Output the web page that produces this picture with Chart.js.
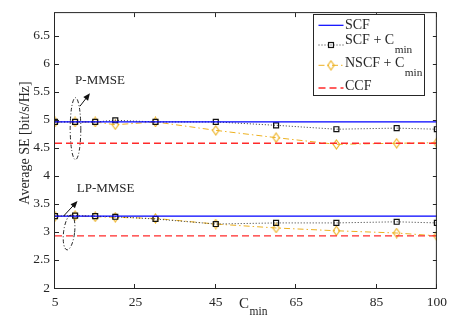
<!DOCTYPE html>
<html>
<head>
<meta charset="utf-8">
<script src="https://cdn.jsdelivr.net/npm/chart.js@4.4.0/dist/chart.umd.min.js"></script>
<style>
  html, body { margin: 0; padding: 0; background: #fff; }
</style>
</head>
<body>
<canvas id="seChart" width="453" height="324"></canvas>
<script>
// x positions (C_min) and tick labels
const cmin = [5, 10, 15, 20, 30, 45, 60, 75, 90, 100];
const xTicks = [5, 25, 45, 65, 85, 100];
const yTicks = [2, 2.5, 3, 3.5, 4, 4.5, 5, 5.5, 6, 6.5];

// P-MMSE group
const scfP      = [4.96, 4.96, 4.96, 4.96, 4.96, 4.96, 4.96, 4.96, 4.96, 4.96];
const scfCminP  = [4.96, 4.96, 4.96, 4.99, 4.96, 4.96, 4.90, 4.83, 4.85, 4.83];
const nscfCminP = [4.96, 4.96, 4.96, 4.91, 4.96, 4.81, 4.68, 4.56, 4.58, 4.59];
const ccfP      = [4.58, 4.58, 4.58, 4.58, 4.58, 4.58, 4.58, 4.58, 4.58, 4.58];

// LP-MMSE group
const scfLP      = [3.28, 3.28, 3.28, 3.28, 3.28, 3.28, 3.28, 3.28, 3.28, 3.28];
const scfCminLP  = [3.28, 3.29, 3.28, 3.27, 3.23, 3.14, 3.16, 3.16, 3.18, 3.16];
const nscfCminLP = [3.28, 3.29, 3.27, 3.26, 3.24, 3.14, 3.07, 3.02, 2.98, 2.93];
const ccfLP      = [2.93, 2.93, 2.93, 2.93, 2.93, 2.93, 2.93, 2.93, 2.93, 2.93];

const FONT = "'Liberation Serif', 'Times New Roman', serif";
const INK = "#262626";
const BLUE = "#0000ff";
const ORANGE = "#edb120";
const RED = "#ff2a2a";
const DARK = "#333333";

// open diamond marker (taller than wide, like matlab)
function diamondMarker(color) {
  const c = document.createElement("canvas");
  c.width = 9;
  c.height = 11;
  const g = c.getContext("2d");
  g.strokeStyle = color;
  g.lineWidth = 1.1;
  g.beginPath();
  g.moveTo(4.5, 1);
  g.lineTo(7.7, 5.5);
  g.lineTo(4.5, 10);
  g.lineTo(1.3, 5.5);
  g.closePath();
  g.stroke();
  return c;
}
const diamond = diamondMarker(ORANGE);

function pts(values) {
  return cmin.map((c, i) => ({ x: c, y: values[i] }));
}

const styles = {
  scf:  { borderColor: BLUE, borderWidth: 1.2, pointRadius: 0, borderDash: [] },
  scfC: { borderColor: DARK, borderWidth: 1, borderDash: [1, 2], pointStyle: "rect", pointRadius: 3.5,
          pointBorderColor: "#111", pointBackgroundColor: "rgba(0,0,0,0)", pointBorderWidth: 1.2 },
  nscf: { borderColor: ORANGE, borderWidth: 1, borderDash: [6, 3, 1.5, 3], pointStyle: diamond, pointRadius: 4 },
  ccf:  { borderColor: RED, borderWidth: 1.3, borderDash: [7, 4], pointRadius: 0 },
};

function ds(label, values, style, order) {
  return { label: label, data: pts(values), fill: false, tension: 0, order: order, ...style };
}

// legend rows, drawn by hand because of the subscripts
const legendRows = [
  { style: "scf",  text: "SCF",       sub: "" },
  { style: "scfC", text: "SCF + C",   sub: "min" },
  { style: "nscf", text: "NSCF + C",  sub: "min" },
  { style: "ccf",  text: "CCF",       sub: "" },
];

function textWithSub(ctx, text, sub, x, y, size, subSize, subDy) {
  ctx.font = size + "px " + FONT;
  ctx.textAlign = "left";
  ctx.textBaseline = "middle";
  ctx.fillText(text, x, y);
  if (sub) {
    const w = ctx.measureText(text).width;
    ctx.font = subSize + "px " + FONT;
    ctx.fillText(sub, x + w + 0.5, y + subDy);
  }
}

function drawSample(ctx, st, x0, x1, y) {
  ctx.save();
  ctx.strokeStyle = st.borderColor;
  ctx.lineWidth = st.borderWidth;
  ctx.setLineDash(st.borderDash || []);
  ctx.beginPath();
  ctx.moveTo(x0, y);
  ctx.lineTo(x1, y);
  ctx.stroke();
  ctx.setLineDash([]);
  const xm = (x0 + x1) / 2;
  if (st.pointStyle === "rect") {
    const s = st.pointRadius * Math.SQRT1_2;
    ctx.strokeStyle = st.pointBorderColor;
    ctx.lineWidth = st.pointBorderWidth;
    ctx.strokeRect(xm - s, y - s, 2 * s, 2 * s);
  } else if (st.pointStyle && st.pointStyle.getContext) {
    ctx.drawImage(st.pointStyle, xm - st.pointStyle.width / 2, y - st.pointStyle.height / 2);
  }
  ctx.restore();
}

function arrow(ctx, x0, y0, x1, y1) {
  const ang = Math.atan2(y1 - y0, x1 - x0);
  const len = 7, half = 3;
  ctx.beginPath();
  ctx.moveTo(x0, y0);
  ctx.lineTo(x1 - Math.cos(ang) * len * 0.8, y1 - Math.sin(ang) * len * 0.8);
  ctx.stroke();
  ctx.beginPath();
  ctx.moveTo(x1, y1);
  ctx.lineTo(x1 - Math.cos(ang) * len - Math.sin(ang) * half, y1 - Math.sin(ang) * len + Math.cos(ang) * half);
  ctx.lineTo(x1 - Math.cos(ang) * len + Math.sin(ang) * half, y1 - Math.sin(ang) * len - Math.cos(ang) * half);
  ctx.closePath();
  ctx.fill();
}

const decor = {
  id: "decor",
  afterDatasetsDraw(chart) {
    const { ctx, chartArea: a, scales: { x, y } } = chart;
    ctx.save();

    // box frame
    ctx.strokeStyle = INK;
    ctx.lineWidth = 1;
    ctx.strokeRect(a.left - 0.5, a.top - 0.5, a.right - a.left, a.bottom - a.top + 1);

    // inward ticks on all four sides
    ctx.beginPath();
    xTicks.forEach((v) => {
      const px = Math.round(x.getPixelForValue(v)) - 0.5;
      ctx.moveTo(px, a.bottom); ctx.lineTo(px, a.bottom - 4);
      ctx.moveTo(px, a.top); ctx.lineTo(px, a.top + 4);
    });
    yTicks.forEach((v) => {
      const py = Math.round(y.getPixelForValue(v)) + 0.5;
      ctx.moveTo(a.left, py); ctx.lineTo(a.left + 4, py);
      ctx.moveTo(a.right, py); ctx.lineTo(a.right - 4, py);
    });
    ctx.stroke();

    // group annotations (ellipses, arrows, labels)
    ctx.strokeStyle = "#111";
    ctx.fillStyle = "#111";
    ctx.lineWidth = 0.9;
    ctx.setLineDash([4, 2, 1, 2]);
    ctx.beginPath();
    ctx.ellipse(x.getPixelForValue(10.1), y.getPixelForValue(4.84), 5.3, 31, 0, 0, Math.PI * 2);
    ctx.stroke();
    ctx.beginPath();
    ctx.ellipse(x.getPixelForValue(8.5), y.getPixelForValue(2.99), 5.5, 17.5, 0.12, 0, Math.PI * 2);
    ctx.stroke();
    ctx.setLineDash([]);
    ctx.lineWidth = 1;
    arrow(ctx, x.getPixelForValue(11.2), y.getPixelForValue(5.24), x.getPixelForValue(13.7), y.getPixelForValue(5.47));
    arrow(ctx, x.getPixelForValue(7.1), y.getPixelForValue(3.28), x.getPixelForValue(10.6), y.getPixelForValue(3.55));

    ctx.fillStyle = INK;
    ctx.font = "13px " + FONT;
    ctx.textAlign = "left";
    ctx.textBaseline = "middle";
    ctx.fillText("P-MMSE", x.getPixelForValue(10), y.getPixelForValue(5.69));
    ctx.fillText("LP-MMSE", x.getPixelForValue(10.4), y.getPixelForValue(3.77));

    // axis titles
    textWithSub(ctx, "C", "min", 239, 304, 15, 11.5, 8);
    ctx.save();
    ctx.translate(25, 143);
    ctx.rotate(-Math.PI / 2);
    ctx.font = "14px " + FONT;
    ctx.textAlign = "center";
    ctx.textBaseline = "middle";
    ctx.fillText("Average SE [bit/s/Hz]", 0, 0);
    ctx.restore();

    // legend
    const lx = 313.5, ly = 14.5, lw = 111, lh = 81;
    ctx.fillStyle = "#fff";
    ctx.fillRect(lx, ly, lw, lh);
    ctx.strokeStyle = INK;
    ctx.lineWidth = 1;
    ctx.strokeRect(lx, ly, lw, lh);
    const rowY = [25.3, 45, 65.3, 88];
    const textY = [25.3, 40.3, 63.7, 86];
    legendRows.forEach((r, i) => {
      drawSample(ctx, styles[r.style], 318.5, 343.5, rowY[i]);
      ctx.fillStyle = INK;
      textWithSub(ctx, r.text, r.sub, 345, textY[i], 14, 11.3, 9.5);
    });

    ctx.restore();
  },
};

new Chart(document.getElementById("seChart"), {
  type: "line",
  data: {
    datasets: [
      ds("SCF", scfP, styles.scf, 1),
      ds("SCF + Cmin", scfCminP, styles.scfC, 3),
      ds("NSCF + Cmin", nscfCminP, styles.nscf, 4),
      ds("CCF", ccfP, styles.ccf, 2),
      ds("SCF", scfLP, styles.scf, 1),
      ds("SCF + Cmin", scfCminLP, styles.scfC, 3),
      ds("NSCF + Cmin", nscfCminLP, styles.nscf, 4),
      ds("CCF", ccfLP, styles.ccf, 2),
    ],
  },
  options: {
    responsive: false,
    animation: false,
    layout: { padding: { top: 1, right: 16, left: 0, bottom: 0 } },
    plugins: { legend: { display: false }, tooltip: { enabled: false } },
    scales: {
      x: {
        type: "linear",
        min: 5,
        max: 100,
        grid: { display: false, drawTicks: false },
        border: { display: false },
        afterBuildTicks: (s) => { s.ticks = xTicks.map((v) => ({ value: v })); },
        afterFit: (s) => { s.height = 36; },
        ticks: { color: INK, padding: 6, maxRotation: 0, font: { family: FONT, size: 13.5 } },
      },
      y: {
        min: 2,
        max: 6.9,
        grid: { display: false, drawTicks: false },
        border: { display: false },
        afterBuildTicks: (s) => { s.ticks = yTicks.map((v) => ({ value: v })); },
        afterFit: (s) => { s.width = 55; },
        ticks: { color: INK, padding: 5, callback: (v) => String(v), font: { family: FONT, size: 13.5 } },
      },
    },
  },
  plugins: [decor],
});
</script>
</body>
</html>
